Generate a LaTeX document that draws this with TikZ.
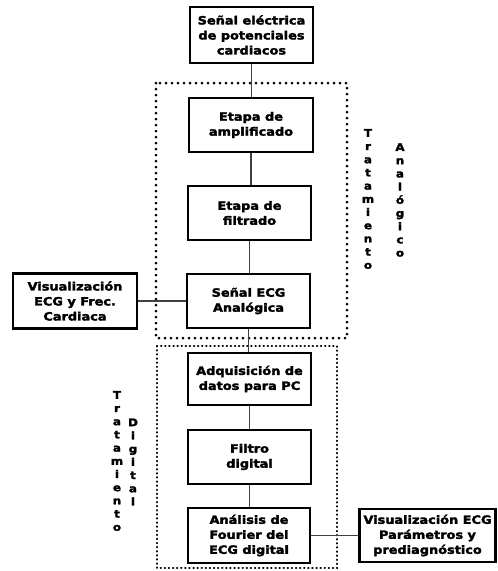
\documentclass[tikz,border=0pt]{standalone}
\usepackage{fontspec}
\setmainfont{DejaVu Sans}
\newfontfamily\heavyfont{DejaVu Sans Bold}[FakeStretch=1.13,RawFeature={embolden=2.5}]
\begin{document}
\begin{tikzpicture}[x=1pt,y=-1pt,
  blockbox/.style={draw,line width=2.6pt,align=center,inner sep=0pt,
    font=\heavyfont\fontsize{11.4}{15}\selectfont},
  link/.style={line width=1.3pt,draw=black!75},
  analogframe/.style={line width=3pt,line cap=round,dash pattern=on 0pt off 6pt},
  digitalframe/.style={line width=2pt,line cap=round,dash pattern=on 0.5pt off 3.6pt},
  vlabel/.style={align=center,inner sep=0pt,font=\heavyfont\fontsize{10.5}{13.2}\selectfont}
]
\useasboundingbox (0,0) rectangle (498,571);

% dotted frames around the analogue and digital stages
\draw[analogframe] (156,83) rectangle (347,338);
\draw[digitalframe] (157,346) rectangle (337,568);

% processing blocks
\node[blockbox,minimum width=123pt,minimum height=56pt] (src) at (251.5,35)
  {Señal eléctrica\\de potenciales\\cardiacos};
\node[blockbox,minimum width=124pt,minimum height=54pt] (amp) at (251,125)
  {Etapa de\\amplificado};
\node[blockbox,minimum width=123pt,minimum height=54pt] (filt) at (249.5,213)
  {Etapa de\\filtrado};
\node[blockbox,minimum width=123pt,minimum height=54pt] (ecg) at (248.5,301)
  {Señal ECG\\Analógica};
\node[blockbox,minimum width=123pt,minimum height=52pt] (adq) at (249.5,379)
  {Adquisición de\\datos para PC};
\node[blockbox,minimum width=123pt,minimum height=54pt] (fdig) at (249.5,457)
  {Filtro\\digital};
\node[blockbox,minimum width=122pt,minimum height=55pt] (four) at (249,535.5)
  {Análisis de\\Fourier del\\ECG digital};

% display blocks
\node[blockbox,minimum width=124pt,minimum height=55pt] (visl) at (75,301)
  {Visualización\\ECG y Frec.\\Cardiaca};
\node[blockbox,minimum width=136pt,minimum height=53pt] (visr) at (427.5,535.5)
  {Visualización ECG\\Parámetros y\\prediagnóstico};

% stacked stage labels
\node[vlabel] (tratA) at (368,199) {T\\r\\a\\t\\a\\m\\i\\e\\n\\t\\o};
\node[vlabel] (analog) at (400,200) {A\\n\\a\\l\\ó\\g\\i\\c\\o};
\node[vlabel] (tratD) at (117,461) {T\\r\\a\\t\\a\\m\\i\\e\\n\\t\\o};
\node[vlabel] (digit) at (133,462) {D\\i\\g\\i\\t\\a\\l};

% connectors
\draw[link] (src.south) -- (src.south |- amp.north);
\draw[link] (amp.south) -- (amp.south |- filt.north);
\draw[link] (filt.south) -- (filt.south |- ecg.north);
\draw[link] (ecg.south) -- (ecg.south |- adq.north);
\draw[link] (adq.south) -- (adq.south |- fdig.north);
\draw[link] (fdig.south) -- (fdig.south |- four.north);
\draw[link] (ecg.west) -- (visl.east);
\draw[link] (four.east) -- (visr.west);
\end{tikzpicture}
\end{document}
